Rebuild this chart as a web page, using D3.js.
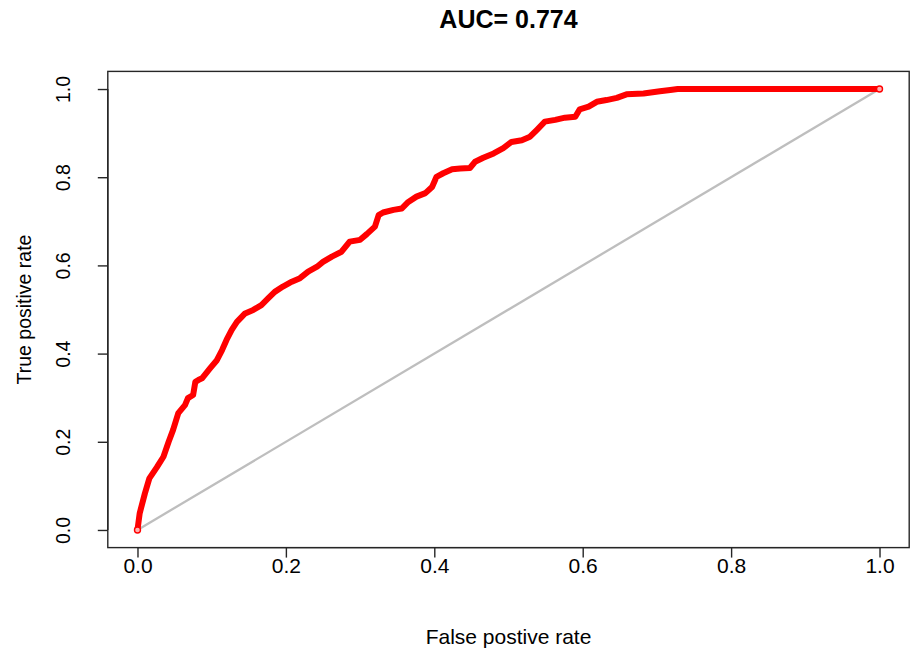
<!DOCTYPE html>
<html>
<head>
<meta charset="utf-8">
<script src="https://cdn.jsdelivr.net/npm/d3@7/dist/d3.min.js"></script>
<style>
  html, body { margin: 0; padding: 0; background: #ffffff; }
  svg { display: block; }
  text { font-family: "Liberation Sans", Arial, Helvetica, sans-serif; fill: #000; }
</style>
</head>
<body>
<svg id="chart" width="914" height="653"></svg>
<script>
// ROC curve: false positive rate vs true positive rate
const fpr = [0.000, 0.003, 0.010, 0.016, 0.026, 0.035, 0.042, 0.048, 0.055, 0.064,
             0.068, 0.075, 0.078, 0.082, 0.087, 0.098, 0.107, 0.114, 0.120, 0.127,
             0.134, 0.145, 0.156, 0.167, 0.176, 0.185, 0.196, 0.208, 0.219, 0.230,
             0.242, 0.250, 0.262, 0.275, 0.286, 0.300, 0.309, 0.320, 0.325, 0.331,
             0.345, 0.356, 0.365, 0.376, 0.388, 0.397, 0.403, 0.412, 0.424, 0.435,
             0.448, 0.455, 0.466, 0.480, 0.493, 0.504, 0.518, 0.529, 0.538, 0.549,
             0.563, 0.576, 0.590, 0.596, 0.608, 0.619, 0.632, 0.646, 0.659, 0.682,
             0.704, 0.718, 0.728, 0.800, 0.900, 1.000];
const tpr = [0.000, 0.038, 0.083, 0.117, 0.142, 0.166, 0.200, 0.227, 0.265, 0.283,
             0.299, 0.306, 0.336, 0.340, 0.344, 0.367, 0.385, 0.408, 0.431, 0.454,
             0.472, 0.491, 0.499, 0.510, 0.525, 0.540, 0.552, 0.563, 0.571, 0.586,
             0.597, 0.608, 0.620, 0.631, 0.654, 0.658, 0.671, 0.688, 0.714, 0.720,
             0.726, 0.729, 0.744, 0.756, 0.764, 0.778, 0.801, 0.809, 0.818, 0.820,
             0.821, 0.835, 0.844, 0.854, 0.866, 0.880, 0.884, 0.892, 0.907, 0.926,
             0.930, 0.935, 0.937, 0.954, 0.960, 0.971, 0.975, 0.980, 0.988, 0.990,
             0.995, 0.998, 1.000, 1.000, 1.000, 1.000];

const xTicks = [0, 0.2, 0.4, 0.6, 0.8, 1.0];
const yTicks = [0, 0.2, 0.4, 0.6, 0.8, 1.0];
const titleText = "AUC= 0.774";
const xLabel = "False postive rate";
const yLabel = "True positive rate";

const svg = d3.select("#chart");

// plot region (R-style 4% padding around the 0..1 range)
const box = { left: 107.8, right: 909.2, top: 71.4, bottom: 547.6 };
const x = d3.scaleLinear().domain([-0.04, 1.04]).range([box.left, box.right]);
const y = d3.scaleLinear().domain([-0.04, 1.04]).range([box.bottom, box.top]);
const fmt = d3.format(".1f");
const axisColor = "#262626";

// chance diagonal
svg.append("line")
  .attr("x1", x(0)).attr("y1", y(0))
  .attr("x2", x(1)).attr("y2", y(1))
  .attr("stroke", "#bebebe")
  .attr("stroke-width", 2.3);

// ROC curve
const pts = fpr.map((f, i) => [f, tpr[i]]);
const line = d3.line().x(d => x(d[0])).y(d => y(d[1]));
svg.append("path")
  .datum(pts)
  .attr("d", line)
  .attr("fill", "none")
  .attr("stroke", "#ff0000")
  .attr("stroke-width", 6)
  .attr("stroke-linejoin", "round")
  .attr("stroke-linecap", "round");

// open markers at the curve ends
svg.selectAll("circle.endpt")
  .data([pts[0], pts[pts.length - 1]])
  .join("circle")
  .attr("class", "endpt")
  .attr("cx", d => x(d[0]))
  .attr("cy", d => y(d[1]))
  .attr("r", 3)
  .attr("fill", "#ffb0b0")
  .attr("stroke", "#ff0000")
  .attr("stroke-width", 1.4);

// frame
svg.append("rect")
  .attr("x", box.left).attr("y", box.top)
  .attr("width", box.right - box.left)
  .attr("height", box.bottom - box.top)
  .attr("fill", "none")
  .attr("stroke", axisColor)
  .attr("stroke-width", 1.4);

// x axis
const xAxis = d3.axisBottom(x).tickValues(xTicks).tickFormat(fmt)
  .tickSize(10).tickSizeOuter(0);
const gx = svg.append("g").attr("transform", `translate(0,${box.bottom})`).call(xAxis);
gx.select(".domain").attr("d", `M${x(xTicks[0])},0H${x(xTicks[xTicks.length - 1])}`)
  .attr("stroke", axisColor).attr("stroke-width", 1.4);
gx.selectAll(".tick line").attr("stroke", axisColor).attr("stroke-width", 1.4);
gx.selectAll(".tick text")
  .attr("y", 25).attr("dy", null)
  .attr("font-size", 21)
  .attr("font-family", "Liberation Sans, Arial, sans-serif")
  .attr("fill", "#000");

// y axis (labels rotated, R style)
const yAxis = d3.axisLeft(y).tickValues(yTicks).tickFormat(fmt)
  .tickSize(10).tickSizeOuter(0);
const gy = svg.append("g").attr("transform", `translate(${box.left},0)`).call(yAxis);
gy.select(".domain").attr("d", `M0,${y(yTicks[0])}V${y(yTicks[yTicks.length - 1])}`)
  .attr("stroke", axisColor).attr("stroke-width", 1.4);
gy.selectAll(".tick line").attr("stroke", axisColor).attr("stroke-width", 1.4);
gy.selectAll(".tick text")
  .attr("x", null).attr("dy", null)
  .attr("transform", "translate(-38,0) rotate(-90)")
  .attr("text-anchor", "middle")
  .attr("font-size", 19.5)
  .attr("font-family", "Liberation Sans, Arial, sans-serif")
  .attr("fill", "#000");

// titles
svg.append("text")
  .attr("x", (box.left + box.right) / 2)
  .attr("y", 28)
  .attr("text-anchor", "middle")
  .attr("font-size", 25)
  .attr("font-weight", "bold")
  .text(titleText);

svg.append("text")
  .attr("x", (box.left + box.right) / 2)
  .attr("y", 644)
  .attr("text-anchor", "middle")
  .attr("font-size", 21)
  .text(xLabel);

svg.append("text")
  .attr("transform", `translate(31,${(box.top + box.bottom) / 2}) rotate(-90)`)
  .attr("text-anchor", "middle")
  .attr("font-size", 19.5)
  .text(yLabel);
</script>
</body>
</html>
